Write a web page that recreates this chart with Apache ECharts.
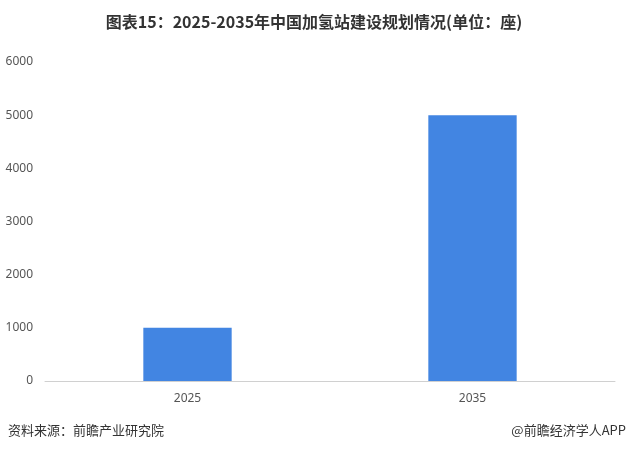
<!DOCTYPE html>
<html><head><meta charset="utf-8">
<script src="https://cdn.jsdelivr.net/npm/echarts@6/dist/echarts.min.js"></script>
<style>html,body{margin:0;padding:0;background:#fff}#c{width:628px;height:452px}</style>
</head><body><div id="c"></div>
<script>
const titleText = '图表15：2025-2035年中国加氢站建设规划情况(单位：座)';
const categories = ['2025', '2035'];
const values = [1000, 5000];
const yTicks = {min: 0, max: 6000, interval: 1000};
const sourceText = '资料来源：前瞻产业研究院';
const brandText = '@前瞻经济学人APP';

const chart = echarts.init(document.getElementById('c'), null, {renderer: 'canvas'});
chart.setOption({
  backgroundColor: '#fff',
  animation: false,
  title: {
    text: titleText, left: 'center', top: 9,
    textStyle: {fontFamily: 'Noto Sans CJK SC', fontSize: 16, fontWeight: 'bold', color: '#333'}
  },
  grid: {left: 45, right: 13, top: 62, bottom: 71, containLabel: false},
  xAxis: {
    type: 'category', data: categories,
    axisLine: {lineStyle: {color: '#d0d0d0'}},
    axisTick: {show: false},
    axisLabel: {color: '#555', fontSize: 12, margin: 12, fontFamily: 'Noto Sans'}
  },
  yAxis: {
    type: 'value', min: yTicks.min, max: yTicks.max, interval: yTicks.interval,
    splitLine: {show: false},
    axisLine: {show: false}, axisTick: {show: false},
    axisLabel: {color: '#555', fontSize: 12, margin: 12, fontFamily: 'Noto Sans', formatter: v => String(v)}
  },
  series: [{
    type: 'bar', data: values, barWidth: '31%',
    itemStyle: {color: '#4285E2'}
  }],
  graphic: [
    {type: 'text', left: 8, top: 424, style: {text: sourceText, fontSize: 13, fill: '#333', fontFamily: 'Noto Sans CJK SC'}},
    {type: 'text', right: 2, top: 424, style: {text: brandText, fontSize: 13, fill: '#333', fontFamily: 'Noto Sans CJK SC'}}
  ]
});
</script></body></html>
